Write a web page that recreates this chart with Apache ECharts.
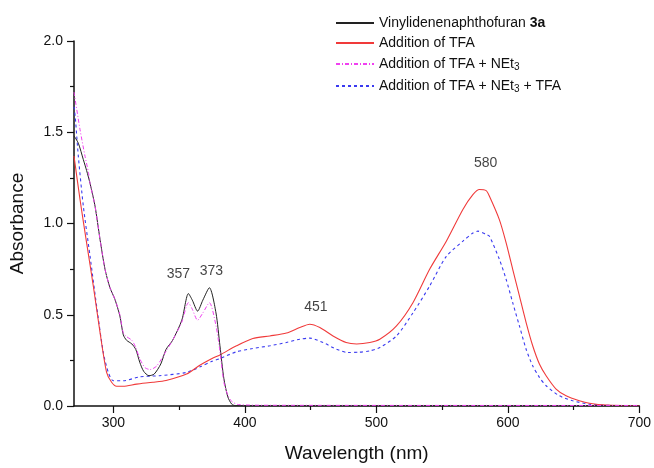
<!DOCTYPE html>
<html>
<head>
<meta charset="utf-8">
<script src="https://cdn.jsdelivr.net/npm/echarts@6/dist/echarts.min.js"></script>
<style>
  html, body { margin: 0; padding: 0; background: #fff; }
  #main { width: 654px; height: 468px; }
</style>
</head>
<body>
<div id="main"></div>
<script>
// spectra: wavelength (nm) / absorbance
const blackWl = [270, 273.3, 277.1, 279.6, 282.2, 286, 289.8, 293.6, 297.3, 301.1, 304.9, 307.5, 310, 314, 317, 320, 323, 327, 331, 336, 340, 345, 352, 357, 360, 364, 368, 373, 378, 381, 384, 387, 390, 393, 450, 700]
const blackAbs = [1.48, 1.44, 1.35, 1.29, 1.22, 1.095, 0.913, 0.749, 0.649, 0.585, 0.493, 0.39, 0.36, 0.34, 0.31, 0.24, 0.19, 0.166, 0.175, 0.23, 0.31, 0.36, 0.47, 0.616, 0.58, 0.52, 0.58, 0.648, 0.51, 0.33, 0.15, 0.05, 0.01, 0.002, 0.001, 0.001]

const redWl = [270, 274.6, 279.6, 284.7, 289.8, 294.8, 298.6, 302.4, 307.5, 317.6, 330, 340, 355.6, 366, 375, 381, 393.6, 406, 419, 431.6, 441.7, 449.3, 457, 467, 477, 485, 495, 502.6, 515.3, 527.8, 540.5, 553.2, 565.8, 573.4, 578.4, 583.5, 586, 593.6, 598.7, 603.7, 608.8, 613.9, 618.9, 624, 629.1, 636.7, 644.3, 654.4, 662, 675, 700]
const redAbs = [1.37, 1.13, 0.894, 0.657, 0.403, 0.184, 0.13, 0.108, 0.108, 0.12, 0.13, 0.14, 0.175, 0.225, 0.26, 0.28, 0.33, 0.37, 0.384, 0.4, 0.43, 0.448, 0.43, 0.384, 0.348, 0.34, 0.348, 0.366, 0.439, 0.566, 0.749, 0.903, 1.077, 1.158, 1.186, 1.18, 1.149, 1.02, 0.894, 0.749, 0.603, 0.457, 0.33, 0.23, 0.166, 0.093, 0.056, 0.029, 0.015, 0.005, 0.002]

const magentaWl = [270, 274.6, 278.4, 281, 282.2, 286, 289.8, 293.6, 297.3, 301.1, 304.9, 307.5, 310, 314, 317, 320, 324, 328, 333, 340, 345, 352, 357, 360, 364, 368, 373, 378, 381, 384, 387, 390, 395, 420, 700]
const magentaAbs = [1.72, 1.514, 1.368, 1.28, 1.22, 1.095, 0.913, 0.749, 0.649, 0.585, 0.5, 0.4, 0.38, 0.36, 0.32, 0.26, 0.21, 0.2, 0.22, 0.3, 0.36, 0.46, 0.566, 0.53, 0.47, 0.51, 0.566, 0.44, 0.3, 0.13, 0.06, 0.025, 0.008, 0.004, 0.003]

const blueWl = [270, 271, 273.3, 277.1, 282.2, 287.2, 292.3, 296.1, 299.9, 307.5, 320, 335, 355.6, 366, 375, 381, 393.6, 406, 419, 431.6, 441.7, 449.3, 459.4, 469.6, 478.4, 487, 494.9, 502.6, 515.3, 527.8, 540.5, 553.2, 565.8, 573.4, 577.2, 583.5, 586, 593.6, 598.7, 603.7, 608.8, 613.9, 618.9, 624, 629.1, 639.2, 649.3, 662, 680, 700]
const blueAbs = [1.64, 1.58, 1.368, 1.095, 0.821, 0.548, 0.293, 0.184, 0.138, 0.138, 0.16, 0.166, 0.184, 0.215, 0.245, 0.26, 0.297, 0.315, 0.33, 0.348, 0.366, 0.372, 0.348, 0.311, 0.293, 0.295, 0.302, 0.32, 0.384, 0.51, 0.657, 0.82, 0.903, 0.948, 0.958, 0.94, 0.93, 0.803, 0.694, 0.566, 0.439, 0.311, 0.22, 0.157, 0.111, 0.056, 0.029, 0.01, 0.003, 0.002]

// peak annotations
const peakWl = [357, 373, 451, 580]
const peakAbs = [0.616, 0.648, 0.448, 1.186]

const xMajor = [300, 400, 500, 600, 700]
const xMinor = [350, 450, 550, 650]

const names = [
  'Vinylidenenaphthofuran 3a',
  'Addition of TFA',
  'Addition of TFA + NEt3',
  'Addition of TFA + NEt3 + TFA'
]

const zip = (xs, ys) => xs.map((x, i) => [x, ys[i]])

const font = 'Liberation Sans, Arial, sans-serif'

const myChart = echarts.init(document.getElementById('main'))

const lineBase = {
  type: 'line',
  symbol: 'none',
  smooth: 0.25,
  animation: false
}

const option = {
  backgroundColor: '#fff',
  textStyle: { fontFamily: font },
  grid: { left: 74, right: 14, top: 41, bottom: 61 },
  legend: {
    data: names,
    orient: 'vertical',
    left: 330,
    top: 11,
    itemWidth: 38,
    itemHeight: 14,
    itemGap: 6,
    itemStyle: { opacity: 0 },
    formatter: function (name) {
      if (name === names[0]) return '{t|Vinylidenenaphthofuran }{b|3a}'
      if (name === names[2]) return '{t|Addition of TFA + NEt}{s|3}'
      if (name === names[3]) return '{t|Addition of TFA + NEt}{s|3}{t| + TFA}'
      return '{t|' + name + '}'
    },
    textStyle: {
      rich: {
        t: { fontSize: 14, color: '#111', fontFamily: font, lineHeight: 16 },
        b: { fontSize: 14, color: '#111', fontWeight: 'bold', fontFamily: font, lineHeight: 16 },
        s: { fontSize: 10, color: '#111', fontFamily: font, verticalAlign: 'bottom', lineHeight: 10, padding: [6, 0, 0, 0] }
      }
    }
  },
  xAxis: [
    {
      type: 'value',
      min: 270,
      max: 700,
      name: 'Wavelength (nm)',
      nameLocation: 'middle',
      nameGap: 38,
      nameTextStyle: { fontSize: 19, color: '#111' },
      axisLine: { show: true, lineStyle: { color: '#111', width: 1.5 } },
      axisTick: { length: 7, customValues: xMajor, lineStyle: { color: '#111', width: 1.2 } },
      axisLabel: { customValues: xMajor, fontSize: 14, color: '#111', margin: 10 },
      splitLine: { show: false }
    },
    {
      type: 'value',
      min: 270,
      max: 700,
      position: 'bottom',
      axisLine: { show: false },
      axisTick: { length: 4, customValues: xMinor, lineStyle: { color: '#111', width: 1.2 } },
      axisLabel: { show: false },
      splitLine: { show: false }
    }
  ],
  yAxis: {
    type: 'value',
    min: 0,
    max: 2,
    interval: 0.5,
    name: 'Absorbance',
    nameLocation: 'middle',
    nameGap: 47,
    nameTextStyle: { fontSize: 19, color: '#111' },
    axisLine: { show: true, lineStyle: { color: '#111', width: 1.5 } },
    axisTick: { show: true, length: 7, lineStyle: { color: '#111', width: 1.2 } },
    minorTick: { show: true, splitNumber: 2, length: 4, lineStyle: { color: '#111', width: 1.2 } },
    axisLabel: { fontSize: 14, color: '#111', margin: 11, formatter: v => v.toFixed(1) },
    splitLine: { show: false }
  },
  series: [
    Object.assign({}, lineBase, {
      name: names[0],
      data: zip(blackWl, blackAbs),
      lineStyle: { color: '#222', width: 1 },
      itemStyle: { color: '#222' },
      z: 4
    }),
    Object.assign({}, lineBase, {
      name: names[1],
      data: zip(redWl, redAbs),
      lineStyle: { color: '#f03a3a', width: 1.1 },
      itemStyle: { color: '#f03a3a' },
      z: 3
    }),
    Object.assign({}, lineBase, {
      name: names[2],
      data: zip(magentaWl, magentaAbs),
      lineStyle: { color: '#f040f0', width: 1, type: [4, 2, 1, 2] },
      itemStyle: { color: '#f040f0' },
      z: 5
    }),
    Object.assign({}, lineBase, {
      name: names[3],
      data: zip(blueWl, blueAbs),
      lineStyle: { color: '#3a3af0', width: 1.1, type: [3, 3] },
      itemStyle: { color: '#3a3af0' },
      z: 2
    }),
    {
      name: 'peaks',
      type: 'scatter',
      symbolSize: 0,
      silent: true,
      animation: false,
      data: [
        { value: [peakWl[0], peakAbs[0]], label: { offset: [-10, -19] } },
        { value: [peakWl[1], peakAbs[1]], label: { offset: [2, -17] } },
        { value: [peakWl[2], peakAbs[2]], label: { offset: [4, -17] } },
        { value: [peakWl[3], peakAbs[3]], label: { offset: [4, -26] } }
      ],
      label: {
        show: true,
        position: 'inside',
        fontSize: 14,
        color: '#111',
        formatter: p => String(peakWl[p.dataIndex])
      }
    }
  ]
}

myChart.setOption(option)
</script>
</body>
</html>
